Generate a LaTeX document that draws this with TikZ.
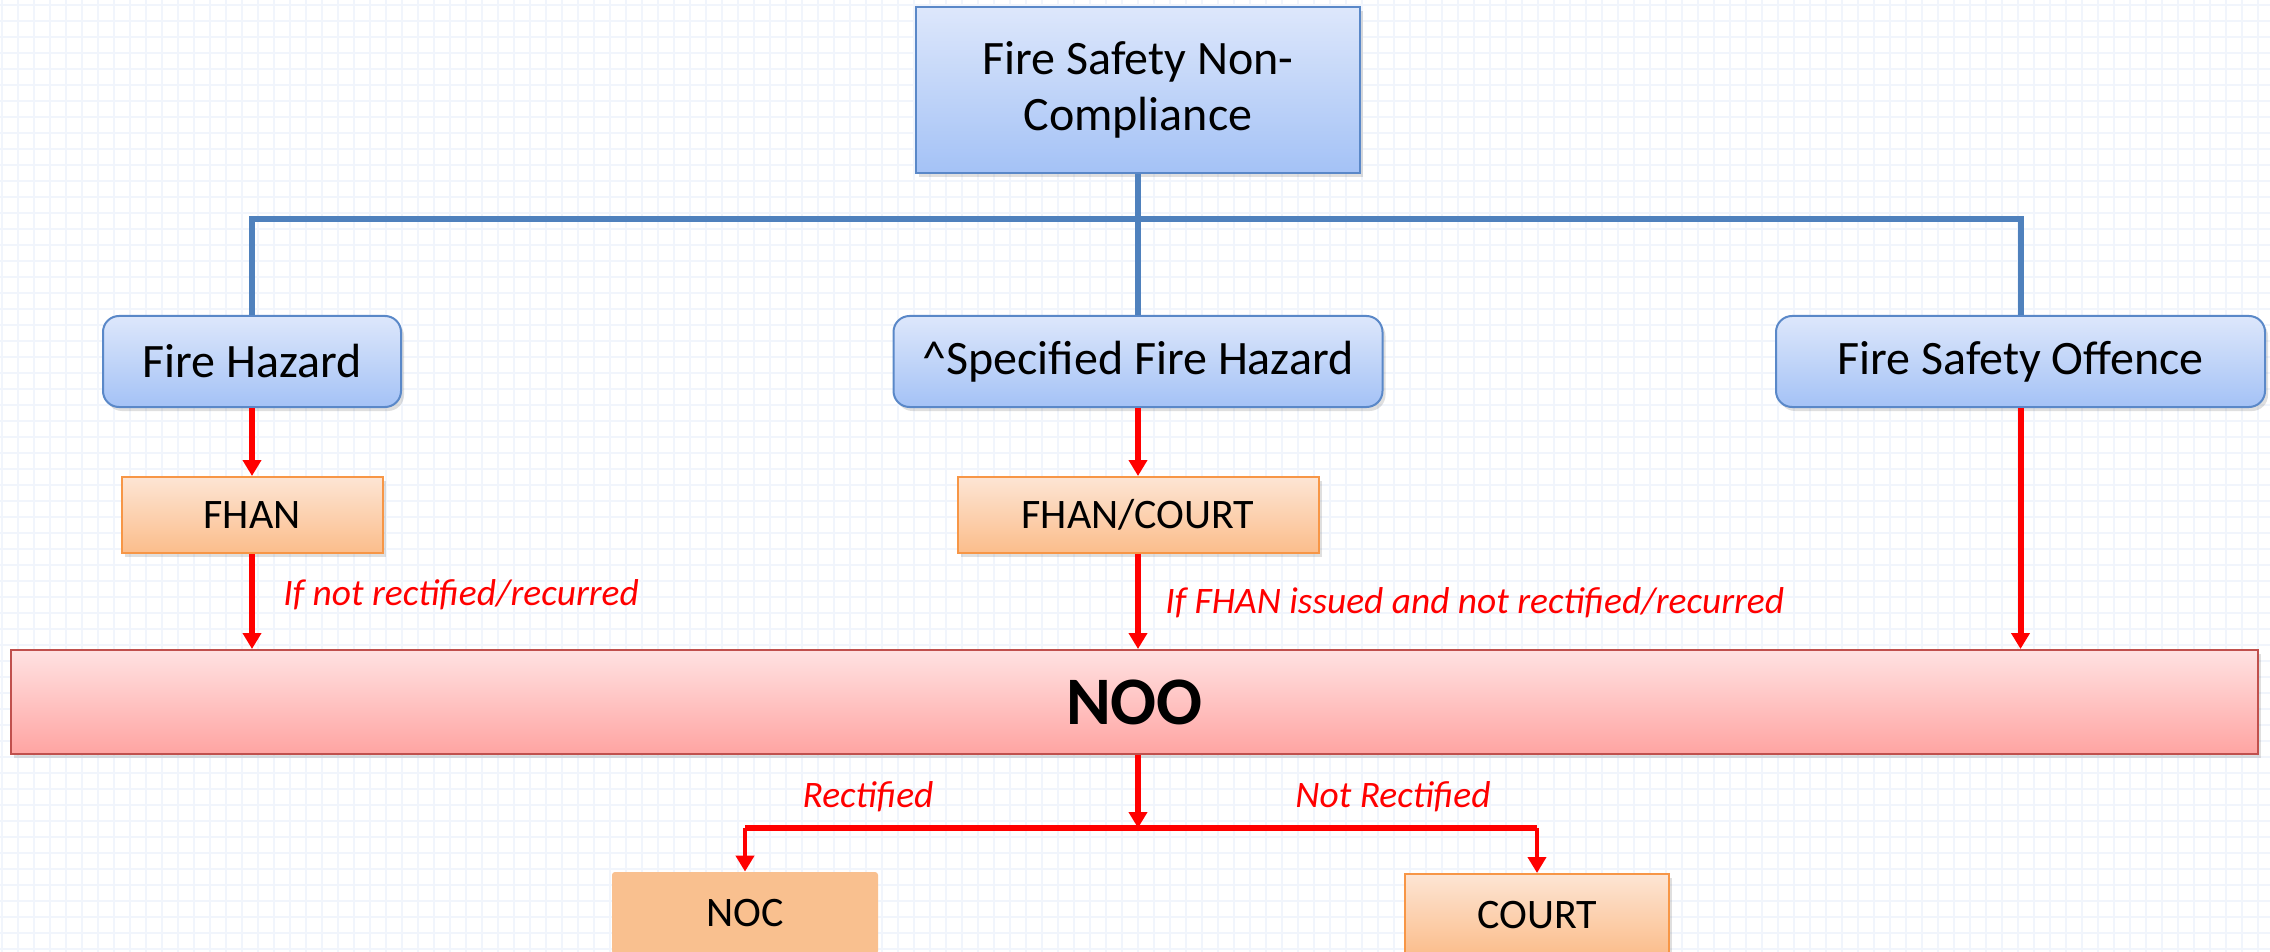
\documentclass[tikz,border=0pt]{standalone}
\usepackage{fontspec}
\setmainfont{Carlito}
\usetikzlibrary{arrows.meta,shadows}
\definecolor{trunkblue}{HTML}{4F81BD}
\definecolor{hazardline}{HTML}{5A88C8}
\definecolor{hazardtop}{HTML}{DDE7FB}
\definecolor{hazardbot}{HTML}{A4C2F6}
\definecolor{noticeline}{HTML}{F79646}
\definecolor{noticetop}{HTML}{FDE5D4}
\definecolor{noticebot}{HTML}{FBBD8B}
\definecolor{nocfill}{HTML}{F9C08F}
\definecolor{nooline}{HTML}{C0504D}
\definecolor{nootop}{HTML}{FFE2E2}
\definecolor{noobot}{HTML}{FFA4A2}
\definecolor{gridcol}{HTML}{F1F5FC}
\begin{document}
\begin{tikzpicture}[x=.5pt,y=-.5pt,
  softshadow/.style={drop shadow={shadow xshift=1.5pt,shadow yshift=-2pt,opacity=.25}},
  hazard/.style={draw=hazardline,line width=1pt,rounded corners=8pt,top color=hazardtop,
    bottom color=hazardbot,inner sep=0pt,minimum height=45.5pt,softshadow,
    font=\fontsize{24}{28}\selectfont},
  topbox/.style={hazard,rounded corners=0pt,minimum width=222pt,minimum height=83pt,align=center},
  notice/.style={draw=noticeline,line width=1pt,top color=noticetop,bottom color=noticebot,
    inner sep=0pt,minimum height=38pt,softshadow,font=\fontsize{21}{24}\selectfont},
  noobox/.style={draw=nooline,line width=1pt,top color=nootop,bottom color=noobot,inner sep=0pt,
    minimum width=1123.5pt,minimum height=52pt,softshadow,font=\fontsize{34}{38}\selectfont\bfseries},
  nocbox/.style={fill=nocfill,rounded corners=1.5pt,inner sep=0pt,minimum width=133pt,
    minimum height=41pt,font=\fontsize{21}{24}\selectfont},
  trunk/.style={draw=trunkblue,line width=3pt},
  flow/.style={draw=red,line width=3pt,-{Triangle[width=9pt,length=8pt]}},
  branch/.style={flow,line width=2.4pt},
  cond/.style={text=red,inner sep=0pt,font=\fontsize{18.7}{21}\selectfont\itshape}]
\useasboundingbox (0,0) rectangle (2270,952);
\clip (0,0) rectangle (2270,952);
\fill[white] (0,0) rectangle (2270,952);
% background grid
\foreach \gx in {2,18,...,2270} \draw[gridcol,line width=1pt] (\gx,0) -- (\gx,952);
\foreach \gy in {5,21,...,952} \draw[gridcol,line width=1pt] (0,\gy) -- (2270,\gy);

\node[topbox] (fsnc) at (1138,90) {Fire Safety Non-\\Compliance};
\node[hazard,minimum width=149pt] (fh) at (252,361.5) {Fire Hazard};
\node[hazard,minimum width=244.5pt] (sfh) at (1138,361.5) {\textasciicircum Specified Fire Hazard};
\node[hazard,minimum width=244.5pt] (fso) at (2020.5,361.5) {Fire Safety Offence};
\node[notice,minimum width=130.5pt] (fhan) at (252,515) {FHAN};
\node[notice,minimum width=180.5pt] (fhancourt) at (1138,515) {FHAN/COURT};
\node[noobox] (noo) at (1134.5,702) {NOO};
\node[nocbox] (noc) at (745,913) {NOC};
\node[notice,minimum width=132pt,minimum height=41pt] (court) at (1537,915) {COURT};

\coordinate (split) at (1138,219);
\coordinate (fork) at (1138,828);

\draw[trunk] (fh.north) -- (fh.north |- split) -- (fso.north |- split) -- (fso.north)
             (fsnc.south) -- (sfh.north);

\draw[flow] (fh) -- (fhan);
\draw[flow] (fhan) -- (fhan |- noo.north);
\draw[flow] (sfh) -- (fhancourt);
\draw[flow] (fhancourt) -- (fhancourt |- noo.north);
\draw[flow] (fso) -- (fso |- noo.north);
\draw[flow] (noo.south -| fork) -- (fork);
\draw[flow,-] (noc |- fork) -- (court |- fork);
\draw[branch] (noc |- fork) -- (noc.north);
\draw[branch] (court |- fork) -- (court.north);

\node[cond,anchor=base west] (fhcond) at (283,605) {If not rectified/recurred};
\node[cond,anchor=base west] (sfhcond) at (1165,613) {If FHAN issued and not rectified/recurred};
\node[cond,anchor=base] (yescond) at (868,807) {Rectified};
\node[cond,anchor=base] (nocond) at (1393,807) {Not Rectified};
\end{tikzpicture}
\end{document}
